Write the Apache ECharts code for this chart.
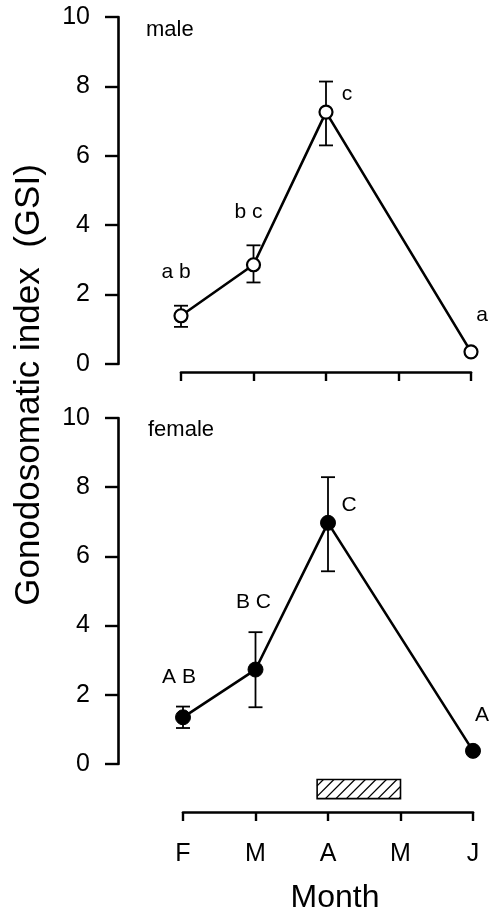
<!DOCTYPE html>
<html>
<head>
<meta charset="utf-8">
<script src="https://cdn.jsdelivr.net/npm/echarts@6/dist/echarts.min.js"></script>
<style>
html, body { margin: 0; padding: 0; background: #fff; }
#chart { width: 489px; height: 914px; }
</style>
</head>
<body>
<div id="chart"></div>
<script>
// months on the x axis, samples were taken in F, M, A and J
var months = ['F', 'M', 'A', 'M', 'J'];
var sampleMonth = [0, 1, 2, 4];

var maleGSI = [1.39, 2.86, 7.26, 0.35];
var maleHigh = [1.68, 3.42, 8.14, null];
var maleLow = [1.07, 2.35, 6.30, null];
var maleLetters = ['a b', 'b c', 'c', 'a'];

var femaleGSI = [1.35, 2.73, 6.97, 0.38];
var femaleHigh = [1.66, 3.81, 8.29, null];
var femaleLow = [1.04, 1.64, 5.57, null];
var femaleLetters = ['A B', 'B C', 'C', 'A'];

// hatched bar (month units)
var hatchSpan = [1.85, 3.0];

var FONT = "'Liberation Sans', Arial, Helvetica, sans-serif";

// label offsets from the point, px
var maleLabelPos = [[-5, -44], [-5, -53], [21, -18], [11, -37]];
var femaleLabelPos = [[-4, -40], [-2, -67], [21, -18], [9, -36]];

function pointData(values, letters, pos) {
    var out = [];
    for (var i = 0; i < values.length; i++) {
        out.push({
            value: [sampleMonth[i], values[i]],
            label: {formatter: letters[i], offset: pos[i]}
        });
    }
    return out;
}

function barData(low, high) {
    var out = [];
    for (var i = 0; i < low.length; i++) {
        if (low[i] == null || high[i] == null) continue;
        out.push([sampleMonth[i], low[i], high[i]]);
    }
    return out;
}

function renderErrorBar(params, api) {
    var x = api.value(0);
    var top = api.coord([x, api.value(2)]);
    var bot = api.coord([x, api.value(1)]);
    var w = 7;
    var st = {stroke: '#000', lineWidth: 1.8};
    return {
        type: 'group',
        children: [
            {type: 'line', shape: {x1: top[0], y1: top[1], x2: bot[0], y2: bot[1]}, style: st},
            {type: 'line', shape: {x1: top[0] - w, y1: top[1], x2: top[0] + w, y2: top[1]}, style: st},
            {type: 'line', shape: {x1: bot[0] - w, y1: bot[1], x2: bot[0] + w, y2: bot[1]}, style: st}
        ]
    };
}

function renderHatch(params, api) {
    var a = api.coord([api.value(0), -0.45]);
    var b = api.coord([api.value(1), -1.0]);
    var x0 = a[0], x1 = b[0], y0 = a[1], y1 = b[1];
    var kids = [{
        type: 'rect',
        shape: {x: x0, y: y0, width: x1 - x0, height: y1 - y0},
        style: {fill: '#fff', stroke: '#000', lineWidth: 1.6}
    }];
    var step = 10.5;
    for (var c = x0 + y0 + step * 0.6; c < x1 + y1; c += step) {
        var xa = Math.max(x0, c - y1);
        var xb = Math.min(x1, c - y0);
        if (xb <= xa) continue;
        kids.push({
            type: 'line',
            shape: {x1: xa, y1: c - xa, x2: xb, y2: c - xb},
            style: {stroke: '#000', lineWidth: 1.3}
        });
    }
    return {type: 'group', children: kids};
}

function xAxisOf(idx, off, withLabels) {
    return {
        type: 'value',
        gridIndex: idx,
        min: 0,
        max: 4,
        interval: 1,
        position: 'bottom',
        offset: off,
        axisLine: {show: true, onZero: false, lineStyle: {color: '#000', width: 2.6}},
        axisTick: {show: true, inside: false, length: 9, lineStyle: {color: '#000', width: 2.4}},
        splitLine: {show: false},
        axisLabel: {
            show: withLabels,
            margin: 30,
            color: '#000',
            fontSize: 25,
            fontFamily: FONT,
            formatter: function (v) { return months[v] || ''; }
        },
        name: withLabels ? 'Month' : '',
        nameLocation: 'middle',
        nameGap: 70,
        nameTextStyle: {color: '#000', fontSize: 32, fontFamily: FONT, padding: [0, 0, 0, 14]}
    };
}

function yAxisOf(idx, off) {
    return {
        type: 'value',
        gridIndex: idx,
        min: 0,
        max: 10,
        interval: 2,
        offset: off,
        axisLine: {show: true, onZero: false, lineStyle: {color: '#000', width: 2.6}},
        axisTick: {show: true, inside: false, length: 13, lineStyle: {color: '#000', width: 2.4}},
        splitLine: {show: false},
        axisLabel: {margin: 28, color: '#000', fontSize: 25, fontFamily: FONT}
    };
}

var labelStyle = {show: true, position: 'inside', color: '#000', fontSize: 21, fontFamily: FONT};

var chart = echarts.init(document.getElementById('chart'));
chart.setOption({
    animation: false,
    backgroundColor: '#fff',
    title: [
        {text: 'male', left: 146, top: 19, padding: 0,
            textStyle: {color: '#000', fontSize: 22, fontWeight: 'normal', fontFamily: FONT}},
        {text: 'female', left: 148, top: 419, padding: 0,
            textStyle: {color: '#000', fontSize: 22, fontWeight: 'normal', fontFamily: FONT}}
    ],
    graphic: [{
        type: 'text',
        x: 29,
        y: 385,
        rotation: Math.PI / 2,
        style: {
            text: 'Gonodosomatic index  (GSI)',
            fill: '#000',
            fontSize: 35,
            fontFamily: FONT,
            align: 'center',
            verticalAlign: 'middle'
        }
    }],
    grid: [
        {left: 181, top: 17, width: 290, height: 347, outerBoundsMode: 'none'},
        {left: 183, top: 418, width: 290, height: 346, outerBoundsMode: 'none'}
    ],
    xAxis: [xAxisOf(0, 8, false), xAxisOf(1, 48, true)],
    yAxis: [yAxisOf(0, 63), yAxisOf(1, 65)],
    series: [
        {
            type: 'custom',
            xAxisIndex: 0, yAxisIndex: 0,
            z: 1,
            clip: false,
            renderItem: renderErrorBar,
            encode: {x: 0, y: [1, 2]},
            data: barData(maleLow, maleHigh)
        },
        {
            type: 'line',
            xAxisIndex: 0, yAxisIndex: 0,
            z: 3,
            clip: false,
            symbol: 'circle',
            symbolSize: 13,
            lineStyle: {color: '#000', width: 2.6},
            itemStyle: {color: '#fff', borderColor: '#000', borderWidth: 2.2},
            label: labelStyle,
            data: pointData(maleGSI, maleLetters, maleLabelPos)
        },
        {
            type: 'custom',
            xAxisIndex: 1, yAxisIndex: 1,
            z: 1,
            clip: false,
            renderItem: renderErrorBar,
            encode: {x: 0, y: [1, 2]},
            data: barData(femaleLow, femaleHigh)
        },
        {
            type: 'line',
            xAxisIndex: 1, yAxisIndex: 1,
            z: 3,
            clip: false,
            symbol: 'circle',
            symbolSize: 15,
            lineStyle: {color: '#000', width: 2.6},
            itemStyle: {color: '#000', borderColor: '#000', borderWidth: 1},
            label: labelStyle,
            data: pointData(femaleGSI, femaleLetters, femaleLabelPos)
        },
        {
            type: 'custom',
            xAxisIndex: 1, yAxisIndex: 1,
            z: 1,
            clip: false,
            renderItem: renderHatch,
            encode: {x: [0, 1]},
            data: [hatchSpan]
        }
    ]
});
</script>
</body>
</html>
